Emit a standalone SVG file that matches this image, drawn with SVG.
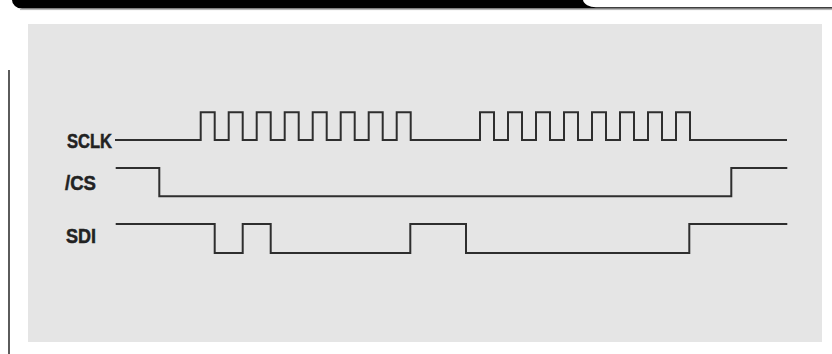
<svg xmlns="http://www.w3.org/2000/svg" width="832" height="354" viewBox="0 0 832 354">
<style>
.sig{fill:none;stroke:#2e2e2e;stroke-width:2;stroke-linejoin:miter}
.lbl{font-family:"Liberation Sans",Arial,sans-serif;font-weight:bold;font-size:20.5px;fill:#222;stroke:#222;stroke-width:0.5}
</style>
<rect x="0" y="0" width="832" height="354" fill="#ffffff"/>
<g id="header">
<path d="M12,0 H583 A13,8 0 0 0 596,7.2 H832 V8.6 H22 A10,8.6 0 0 1 12,0 Z" fill="#000"/>
<line x1="20" y1="9.6" x2="832" y2="9.6" stroke="#b0b0b0" stroke-width="1"/>
<line x1="9" y1="70" x2="9" y2="354" stroke="#333" stroke-width="1.6"/>
</g>
<rect id="panel" x="28" y="24" width="794" height="318" fill="#e5e5e5"/>
<g id="labels">
<text class="lbl" x="67" y="148.3" textLength="45" lengthAdjust="spacingAndGlyphs">SCLK</text>
<text class="lbl" x="65" y="190" textLength="31" lengthAdjust="spacingAndGlyphs">/CS</text>
<text class="lbl" x="66" y="242.7" textLength="30" lengthAdjust="spacingAndGlyphs">SDI</text>
</g>
<g id="connectors">
<path id="sclk" class="sig" d="M115,140 H200.7 V112.3 H214.7 V140 H228.7 V112.3 H242.7 V140 H256.7 V112.3 H270.7 V140 H284.7 V112.3 H298.7 V140 H312.7 V112.3 H326.7 V140 H340.7 V112.3 H354.7 V140 H368.7 V112.3 H382.7 V140 H396.7 V112.3 H410.7 V140 H480 V112.3 H494 V140 H508 V112.3 H522 V140 H536 V112.3 H550 V140 H564 V112.3 H578 V140 H592 V112.3 H606 V140 H620 V112.3 H634 V140 H648 V112.3 H662 V140 H676 V112.3 H690 V140 H787"/>
<path id="cs" class="sig" d="M115.7,168 H159.3 V196.3 H731.3 V168 H787.3"/>
<path id="sdi" class="sig" d="M115.7,224 H214.7 V253 H242.7 V224 H270.7 V253 H410.3 V224 H466 V253 H689.3 V224 H787.3"/>
</g>
</svg>
